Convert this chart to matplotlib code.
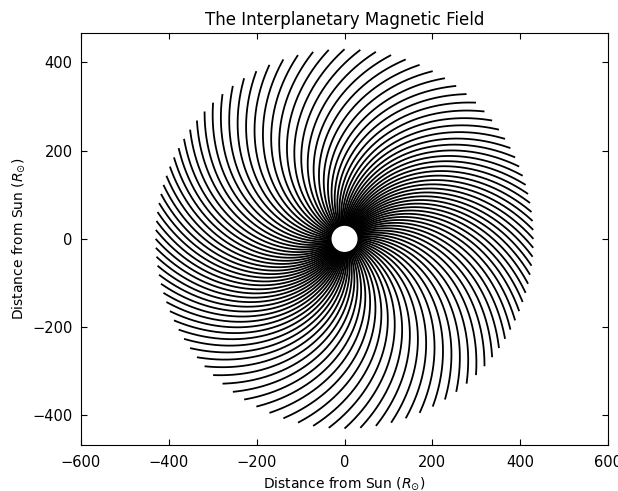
import numpy as np
import matplotlib
matplotlib.use('Agg')
import matplotlib.pyplot as plt

# Parker spiral parameters
n_lines = 100          # number of field lines
r_sun_edge = 28.0      # inner radius where lines start (R_sun)
r_outer = 430.0        # outer radius where lines end (R_sun)
wind_k = 0.0026        # winding rate, rad per R_sun (Omega / v)
squash = 0.75          # footpoint compression (lines denser towards +/-x at the ends)

x_ticks = [-600, -400, -200, 0, 200, 400, 600]
y_ticks = [-400, -200, 0, 200, 400]
x_lim = (-600, 600)
y_lim = (-467, 467)


def field_lines():
    t = np.arange(n_lines) * 2 * np.pi / n_lines
    end_angle = np.arctan2(squash * np.sin(t), np.cos(t))
    start_angle = end_angle + wind_k * (r_outer - r_sun_edge)
    r = np.linspace(r_sun_edge, r_outer, 400)
    lines = []
    for phi0 in start_angle:
        phi = phi0 - wind_k * (r - r_sun_edge)
        lines.append((r * np.cos(phi), r * np.sin(phi)))
    return lines


def main():
    plt.rcParams['font.family'] = ['DejaVu Sans']
    fig = plt.figure(figsize=(6.18, 4.91), dpi=100)
    ax = fig.add_axes([0.131, 0.094, 0.853, 0.839])

    for x, y in field_lines():
        ax.plot(x, y, color='k', lw=1.3, solid_capstyle='butt')

    ax.add_patch(plt.Circle((0, 0), r_sun_edge, color='white', zorder=3))

    ax.set_xlim(*x_lim)
    ax.set_ylim(*y_lim)
    ax.set_xticks(x_ticks)
    ax.set_yticks(y_ticks)
    ax.tick_params(direction='in', top=True, right=True, length=4, labelsize=10.5)
    ax.tick_params(axis='x', pad=7)
    ax.tick_params(axis='y', pad=6)
    ax.set_title('The Interplanetary Magnetic Field', fontsize=12)
    ax.set_xlabel(r'Distance from Sun ($R_{\odot}$)', fontsize=10)
    ax.set_ylabel(r'Distance from Sun ($R_{\odot}$)', fontsize=10)

    fig.savefig('out.png', dpi=100)
    plt.close(fig)


if __name__ == "__main__":
    main()
